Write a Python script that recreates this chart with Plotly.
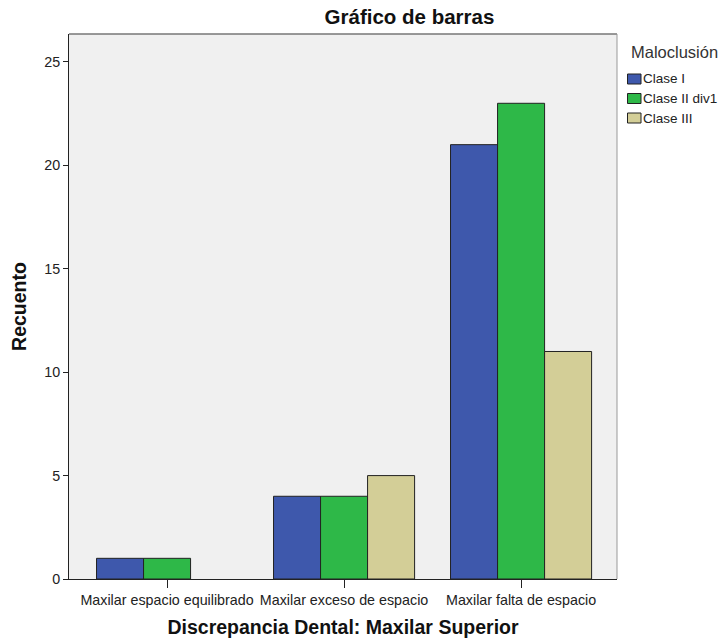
import plotly.graph_objects as go

categories = ["Maxilar espacio equilibrado", "Maxilar exceso de espacio", "Maxilar falta de espacio"]
series_names = ["Clase I", "Clase II div1", "Clase III"]
clase_i = [1, 4, 21]
clase_ii_div1 = [1, 4, 23]
clase_iii = [0, 5, 11]
colors = ["#3E58AC", "#2EB848", "#D3CE97"]
legend_title = "Maloclusión"

W, H = 721, 638
L, R, T, B = 69, 617, 34, 579  # plot area in pixels


def px(xp):
    return (xp - L) / (R - L)


def py(yp):
    return (B - yp) / (B - T)


fig = go.Figure()
for name, vals, col in zip(series_names, [clase_i, clase_ii_div1, clase_iii], colors):
    fig.add_trace(go.Bar(
        x=list(range(len(categories))),
        y=[v if v != 0 else None for v in vals],
        name=name, showlegend=False,
        marker=dict(color=col, line=dict(color="#222222", width=1)),
    ))

FONT = "Liberation Sans, Arial, sans-serif"
fig.update_layout(
    width=W, height=H,
    margin=dict(l=L, r=W - R, t=T, b=H - B, autoexpand=False),
    paper_bgcolor="white", plot_bgcolor="#F0F0F0",
    barmode="group", bargap=0.203, bargroupgap=0,
    font=dict(family=FONT, size=12, color="#222222"),
    title=dict(text="<b>Gráfico de barras</b>", x=409.5 / W, xanchor="center",
               y=1 - 17 / H, yanchor="middle",
               font=dict(size=20.5, color="#111111")),
    showlegend=False,
    xaxis=dict(
        range=[-0.554, 2.542], tickmode="array",
        tickvals=list(range(len(categories))), ticktext=categories,
        ticks="outside", ticklen=8, tickcolor="#222222", automargin=False,
        showline=True, linecolor="#222222", linewidth=1,
        showgrid=False, zeroline=False,
        tickfont=dict(size=14.3, color="#222222"),
        title=dict(text="<b>Discrepancia Dental: Maxilar Superior</b>",
                   font=dict(size=19.5, color="#111111"), standoff=19),
    ),
    yaxis=dict(
        range=[0, 26.35], tickvals=[0, 5, 10, 15, 20, 25],
        ticks="outside", ticklen=5, tickcolor="#222222", automargin=False,
        showline=True, linecolor="#222222", linewidth=1,
        showgrid=False, zeroline=False,
        tickfont=dict(size=14.3, color="#222222"),
        title=dict(text="<b>Recuento</b>", font=dict(size=19.5, color="#111111"), standoff=12),
    ),
)
fig.add_shape(type="line", xref="paper", yref="paper", x0=0, x1=1, y0=1, y1=1,
              line=dict(color="#777777", width=1.5))
fig.add_shape(type="line", xref="paper", yref="paper", x0=1, x1=1, y0=0, y1=1,
              line=dict(color="#999999", width=1))

# custom legend
fig.add_annotation(text=legend_title, xref="paper", yref="paper", x=px(629), y=py(52),
                   xanchor="left", yanchor="middle", showarrow=False,
                   font=dict(size=16.5, color="#333333", family=FONT))
row_y = [79, 98.5, 118]
for name, col, yy in zip(series_names, colors, row_y):
    fig.add_shape(type="rect", xref="paper", yref="paper",
                  x0=px(627.5), x1=px(641), y0=py(yy - 5), y1=py(yy + 5),
                  fillcolor=col, line=dict(color="#222222", width=1))
    fig.add_annotation(text=name, xref="paper", yref="paper", x=px(641), y=py(yy),
                       xanchor="left", yanchor="middle", showarrow=False,
                       font=dict(size=13.5, color="#222222", family=FONT))

fig.write_html(
    "out.html",
    config={"displayModeBar": False},
    post_script="document.body.style.margin='0';document.body.style.overflow='hidden';",
)
